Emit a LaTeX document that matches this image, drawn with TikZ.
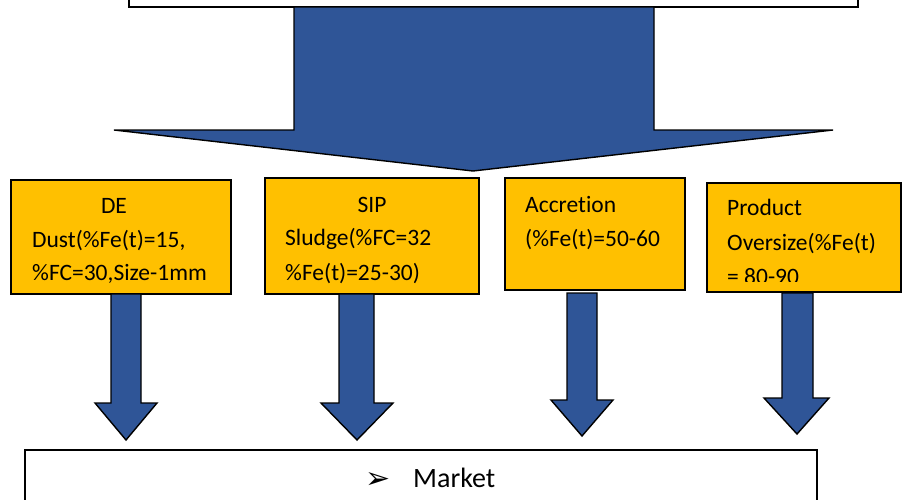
\documentclass[tikz,border=0pt]{standalone}
\usepackage{fontspec}
\setmainfont{Carlito}[Ligatures=NoCommon]
\newfontfamily\dejavu{DejaVu Sans}
\definecolor{arrowblue}{HTML}{2F5597}
\definecolor{boxyellow}{HTML}{FFC000}
\begin{document}
\begin{tikzpicture}[x=1pt,y=-1pt,
  yellowbox/.style={draw=black, line width=1.5pt, fill=boxyellow, anchor=north west, inner sep=0pt},
  whitebox/.style={draw=black, line width=1.5pt, fill=white, anchor=north west, inner sep=0pt},
  blockarrow/.style={draw=black, line width=1.4pt, fill=arrowblue, line join=miter},
  txt/.style={anchor=base west, inner sep=0pt, font=\fontsize{23.5}{28}\selectfont},
  ctxt/.style={anchor=base, inner sep=0pt, font=\fontsize{23.5}{28}\selectfont}]
\useasboundingbox (0,0) rectangle (903,499);
% top box (cut by the top edge)
\node[whitebox, minimum width=729pt, minimum height=40pt] (top) at (128,-34) {};
% big arrow
\draw[blockarrow] (294,7) -- (654,7) -- (654,130) -- (833,130) -- (473,171) -- (114,130) -- (294,130) -- cycle;
% boxes
\node[yellowbox, minimum width=220pt, minimum height=114pt] (de) at (10,179) {};
\node[yellowbox, minimum width=214pt, minimum height=116pt] (sip) at (264,177) {};
\node[yellowbox, minimum width=180pt, minimum height=112pt] (acc) at (504,177) {};
\node[yellowbox, minimum width=194pt, minimum height=109pt] (prod) at (706,182) {};
% texts
\node[ctxt] (de1) at (114,213) {DE};
\node[txt] (de2) at (32,247) {Dust(\%Fe(t)=15,};
\node[txt] (de3) at (32,280) {\%FC=30,Size-1mm};
\node[ctxt] (sip1) at (372,212) {SIP};
\node[txt] (sip2) at (285,245) {Sludge(\%FC=32};
\node[txt] (sip3) at (285,280) {\%Fe(t)=25-30)};
\node[txt] (acc1) at (525,212) {Accretion};
\node[txt] (acc2) at (525,246) {(\%Fe(t)=50-60};
\node[txt] (prod1) at (727,215) {Product};
\node[txt] (prod2) at (727,250) {Oversize(\%Fe(t)};
\begin{scope}
\clip (706,182) rectangle (900,281);
\node[txt] (prod3) at (727,284) {= 80-90};
\end{scope}
% small arrows
\draw[blockarrow] (111,294) -- (141,294) -- (141,403) -- (157,403) -- (126,440) -- (95,403) -- (111,403) -- cycle;
\draw[blockarrow] (339,294) -- (374,294) -- (374,403) -- (393,403) -- (357,440) -- (321,403) -- (339,403) -- cycle;
\draw[blockarrow] (567,293) -- (597,293) -- (597,400) -- (613,400) -- (582,436) -- (551,400) -- (567,400) -- cycle;
\draw[blockarrow] (782,293) -- (813,293) -- (813,398) -- (829,398) -- (797,434) -- (764,398) -- (782,398) -- cycle;
% market box (cut by the bottom edge)
\node[whitebox, minimum width=792pt, minimum height=80pt] (market) at (24,449) {};
\node[anchor=base west, inner sep=0pt, font=\dejavu\fontsize{30}{34}\selectfont] (bullet) at (365,488) {➢};
\node[anchor=base west, inner sep=0pt, font=\fontsize{28}{32}\selectfont] (mtext) at (413,487) {Market};
\end{tikzpicture}
\end{document}
